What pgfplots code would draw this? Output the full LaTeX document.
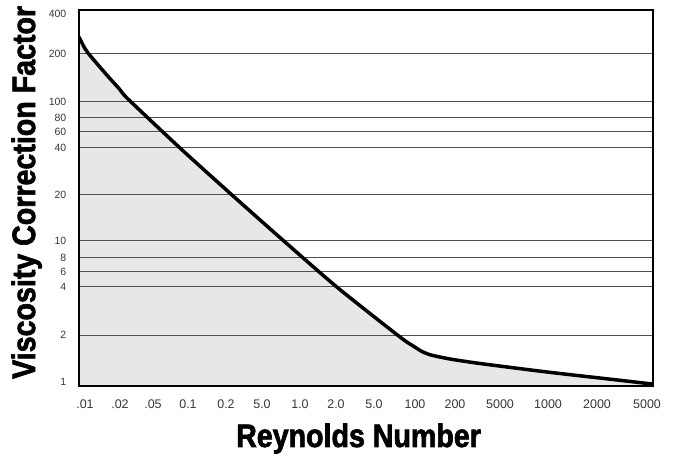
\documentclass[border=0pt]{standalone}
\usepackage{pgfplots}
\pgfplotsset{compat=1.18}
\usepackage{fontspec}
\setmainfont{Liberation Sans}
\newfontfamily\labelfont{Liberation Sans}[FakeStretch=0.88, FakeBold=2]
\definecolor{fillgray}{RGB}{230,231,232}
\definecolor{gridgray}{RGB}{80,80,80}
\definecolor{tickgray}{RGB}{55,55,55}

\begin{document}
\begin{tikzpicture}
\path[use as bounding box] (-79bp,-73bp) rectangle (594bp,386bp);
\begin{axis}[
  scale only axis, width=574bp, height=376bp,
  xmin=0, xmax=574, ymin=0, ymax=376,
  axis on top,
  axis line style={line width=2bp, black},
  xtick={6,41,74,109,147,183,221,257,295,336,376,421,469,518,568},
  xticklabels={.01,.02,.05,0.1,0.2,5.0,1.0,2.0,5.0,100,200,5000,1000,2000,5000},
  ytick={4,51,99,114,128,145,191,238,254,268,284,332,372},
  yticklabels={1,2,4,6,8,10,20,40,60,80,100,200,400},
  major tick length=0,
  xticklabel style={font=\fontsize{12.5bp}{14bp}\selectfont, text=tickgray, anchor=base, yshift=-22bp, inner sep=0pt},
  yticklabel style={font=\fontsize{10.5bp}{12bp}\selectfont, text=tickgray, anchor=east, inner sep=0pt, xshift=-12.5bp},
  xlabel={Reynolds Number},
  ylabel={Viscosity Correction Factor},
  every axis x label/.style={at={(axis description cs:0.487,-0.1622)}, anchor=base, font=\labelfont\bfseries\fontsize{32.5bp}{36bp}\selectfont},
  every axis y label/.style={at={(axis description cs:-0.0765,0.515)}, rotate=90, anchor=base, font=\labelfont\bfseries\fontsize{32.5bp}{36bp}\selectfont},
]
\addplot[draw=none, fill=fillgray, smooth, tension=0.4] coordinates {
(0,349) (2,345) (4.5,340) (9,333) (20,320) (30,308.5) (40,297.5) (49,287)
(101,238) (153,191) (206,144) (259,98) (321,49) (335,39.5) (343,34.5)
(352,31) (371,27) (401,22.5) (468,14) (534,6.5) (573,2)
} \closedcycle;
\draw[gridgray, line width=1bp] (axis cs:0,51) -- (axis cs:574,51);
\draw[gridgray, line width=1bp] (axis cs:0,99) -- (axis cs:574,99);
\draw[gridgray, line width=1bp] (axis cs:0,114) -- (axis cs:574,114);
\draw[gridgray, line width=1bp] (axis cs:0,128) -- (axis cs:574,128);
\draw[gridgray, line width=1bp] (axis cs:0,145) -- (axis cs:574,145);
\draw[gridgray, line width=1bp] (axis cs:0,191) -- (axis cs:574,191);
\draw[gridgray, line width=1bp] (axis cs:0,238) -- (axis cs:574,238);
\draw[gridgray, line width=1bp] (axis cs:0,254) -- (axis cs:574,254);
\draw[gridgray, line width=1bp] (axis cs:0,268) -- (axis cs:574,268);
\draw[gridgray, line width=1bp] (axis cs:0,284) -- (axis cs:574,284);
\draw[gridgray, line width=1bp] (axis cs:0,332) -- (axis cs:574,332);
\addplot[black, line width=3.5bp, line join=round, smooth, tension=0.4] coordinates {
(0,349) (2,345) (4.5,340) (9,333) (20,320) (30,308.5) (40,297.5) (49,287)
(101,238) (153,191) (206,144) (259,98) (321,49) (335,39.5) (343,34.5)
(352,31) (371,27) (401,22.5) (468,14) (534,6.5) (573,2)
};
\end{axis}
\end{tikzpicture}
\end{document}
